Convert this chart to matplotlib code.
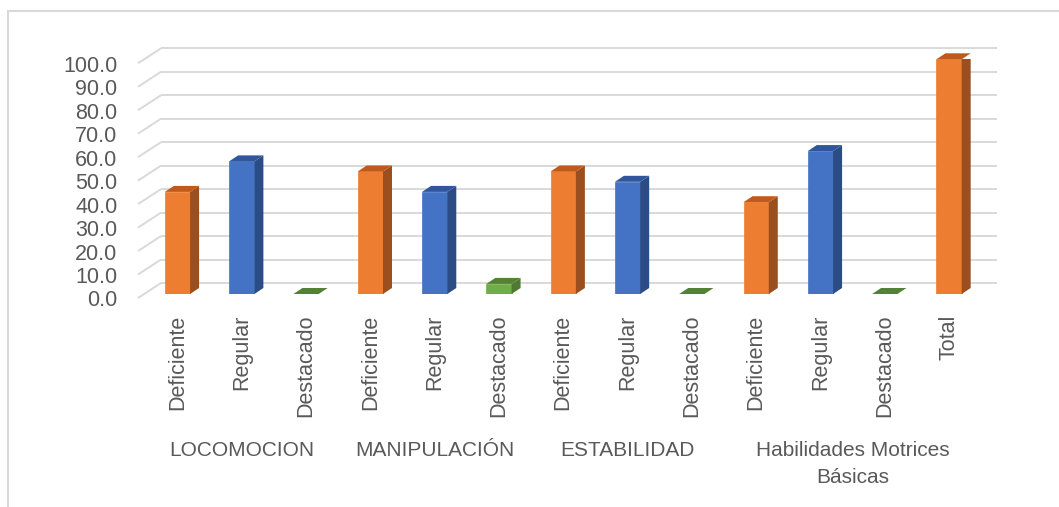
import matplotlib
matplotlib.use("Agg")
import matplotlib.pyplot as plt
from matplotlib.patches import Polygon
from matplotlib.lines import Line2D
from matplotlib import transforms

# Datos del gráfico
etiquetas = ['Deficiente', 'Regular', 'Destacado',
             'Deficiente', 'Regular', 'Destacado',
             'Deficiente', 'Regular', 'Destacado',
             'Deficiente', 'Regular', 'Destacado', 'Total']
valores = [43.5, 56.5, 0.0,
           52.2, 43.5, 4.3,
           52.2, 47.8, 0.0,
           39.1, 60.9, 0.0, 100.0]
grupos = ['LOCOMOCION', 'MANIPULACIÓN', 'ESTABILIDAD', 'Habilidades Motrices\nBásicas']
grupo_tam = [3, 3, 3, 4]
yticks = list(range(0, 101, 10))

# Colores (frente, lado, tapa)
colores = {
    'Deficiente': ('#ED7D31', '#9B4F1E', '#C05A1C'),
    'Total': ('#ED7D31', '#9B4F1E', '#C05A1C'),
    'Regular': ('#4472C4', '#2C4C86', '#30569B'),
    'Destacado': ('#70AD47', '#4E7B31', '#548235'),
}
gris = '#D9D9D9'
texto = '#595959'

plt.rcParams['font.family'] = ['Liberation Sans', 'DejaVu Sans']

W, H = 1059, 507
fig = plt.figure(figsize=(W / 100, H / 100), dpi=100)
ax = fig.add_axes([145.3 / W, (H - 294) / H, 835.9 / W, 234.7 / H])
n = len(valores)
ax.set_xlim(-0.5, n - 0.5)
ax.set_ylim(0, 100)
for s in ax.spines.values():
    s.set_visible(False)

# pixeles por unidad de datos
px_x = 835.9 / n
px_y = 234.7 / 100.0

def off(dx, dy):
    return dx / px_x, dy / px_y

# profundidad: fondo, borde frontal y barra (en pixeles)
bx, by = off(15.7, 11)
fx, fy = off(-7.3, -4)
dx, dy = off(9, 6)

# Rejilla de la pared trasera y pared lateral
x0, x1 = -0.5, n - 0.5
for y in yticks:
    ax.plot([x0 + bx, x1 + bx], [y + by, y + by], color=gris, lw=1.4,
            zorder=1, clip_on=False, solid_capstyle='butt')
    ax.plot([x0 + fx, x0 + bx], [y + fy, y + by], color=gris, lw=1.4,
            zorder=1, clip_on=False, solid_capstyle='butt')

# Barras con efecto 3D
ancho = 0.393
for i, (lab, v) in enumerate(zip(etiquetas, valores)):
    cf, cl, ct = colores[lab]
    xl, xr = i - ancho / 2, i + ancho / 2
    if v > 0:
        ax.bar(i, v, width=ancho, color=cf, zorder=3, edgecolor=cf, lw=0.5)
        ax.add_patch(Polygon([(xr, 0), (xr + dx, dy), (xr + dx, v + dy), (xr, v)],
                             closed=True, color=cl, zorder=3, lw=0))
    ax.add_patch(Polygon([(xl, v), (xl + dx, v + dy), (xr + dx, v + dy), (xr, v)],
                         closed=True, color=ct, zorder=3, lw=0, clip_on=False))

# Ejes
ax.set_yticks(yticks)
ax.set_yticklabels([f'{t:.1f}' for t in yticks], fontsize=15.5, color=texto)
ax.set_xticks(range(n))
ax.set_xticklabels(etiquetas, rotation=90, fontsize=15.5, color=texto)
ax.tick_params(axis='y', length=0, pad=20)
ax.tick_params(axis='x', length=0, pad=15)
desplaza = transforms.ScaledTranslation(0, -0.045, fig.dpi_scale_trans)
for lbl in ax.get_yticklabels():
    lbl.set_transform(lbl.get_transform() + desplaza)

# Etiquetas de grupo
trans = transforms.blended_transform_factory(ax.transData, fig.transFigure)
ini = 0
for g, t in zip(grupos, grupo_tam):
    centro = ini + (t - 1) / 2
    ax.text(centro, (H - 441) / H, g, transform=trans, ha='center', va='top',
            fontsize=15, color=texto, linespacing=1.55)
    ini += t

# Borde del área del gráfico
fig.add_artist(Line2D([8 / W, 8 / W], [0, (H - 11) / H], color=gris, lw=1.5,
                      transform=fig.transFigure))
fig.add_artist(Line2D([8 / W, 1], [(H - 11) / H, (H - 11) / H], color=gris, lw=1.5,
                      transform=fig.transFigure))

fig.savefig('out.png', dpi=100)
